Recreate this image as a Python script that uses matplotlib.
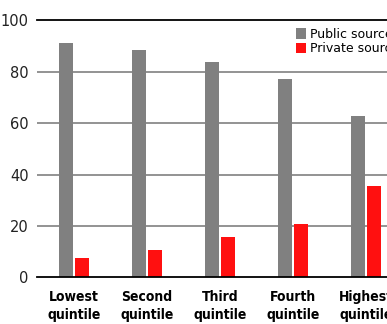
import matplotlib.pyplot as plt
import numpy as np

categories = ["Lowest\nquintile", "Second\nquintile", "Third\nquintile",
              "Fourth\nquintile", "Highest\nquintile"]
public_src = [91, 88.3, 83.7, 77, 62.6]
private_src = [7.4, 10.5, 15.6, 20.6, 35.4]
yticks = [0, 20, 40, 60, 80, 100]

W, H = 387, 324
fig = plt.figure(figsize=(W / 100, H / 100), dpi=100)

# axes run past the right edge, the source image is cropped there
left, right = 37, 387
bottom, top = 277.3, 20.3
ax = fig.add_axes([left / W, (H - bottom) / H, (right - left) / W, (bottom - top) / H])

x = np.arange(len(categories))
bw = 0.192
ax.bar(x - 0.11, public_src, bw, color="#808080", label="Public sources", zorder=3)
ax.bar(x + 0.11, private_src, bw, color="#ff1010", label="Private sources", zorder=3)

ax.set_xlim(-0.507, 4.288)
ax.set_ylim(0, 100)

for y in yticks:
    if y in (0, 100):
        ax.axhline(y, color="black", lw=1.3, zorder=4 if y == 0 else 2, clip_on=False)
    else:
        ax.axhline(y, color="#808080", lw=1.2, zorder=1)

for s in ax.spines.values():
    s.set_visible(False)

ax.set_yticks(yticks)
ax.set_yticklabels([str(v) for v in yticks], fontsize=10.5, color="#222222",
                   family="DejaVu Sans")
ax.tick_params(axis="y", length=0, pad=6)

ax.set_xticks(x)
ax.set_xticklabels(categories, fontsize=10, fontweight="bold",
                   fontstretch="condensed", family="DejaVu Sans",
                   linespacing=1.35)
ax.tick_params(axis="x", length=0, pad=9)

ax.legend(loc="upper left", bbox_to_anchor=((298 - left) / (right - left) - 0.02, 0.99),
          frameon=False, fontsize=9, handlelength=0.8, handleheight=0.9,
          handletextpad=0.3, labelspacing=0.1, borderaxespad=0)

fig.savefig("out.png", dpi=100)
